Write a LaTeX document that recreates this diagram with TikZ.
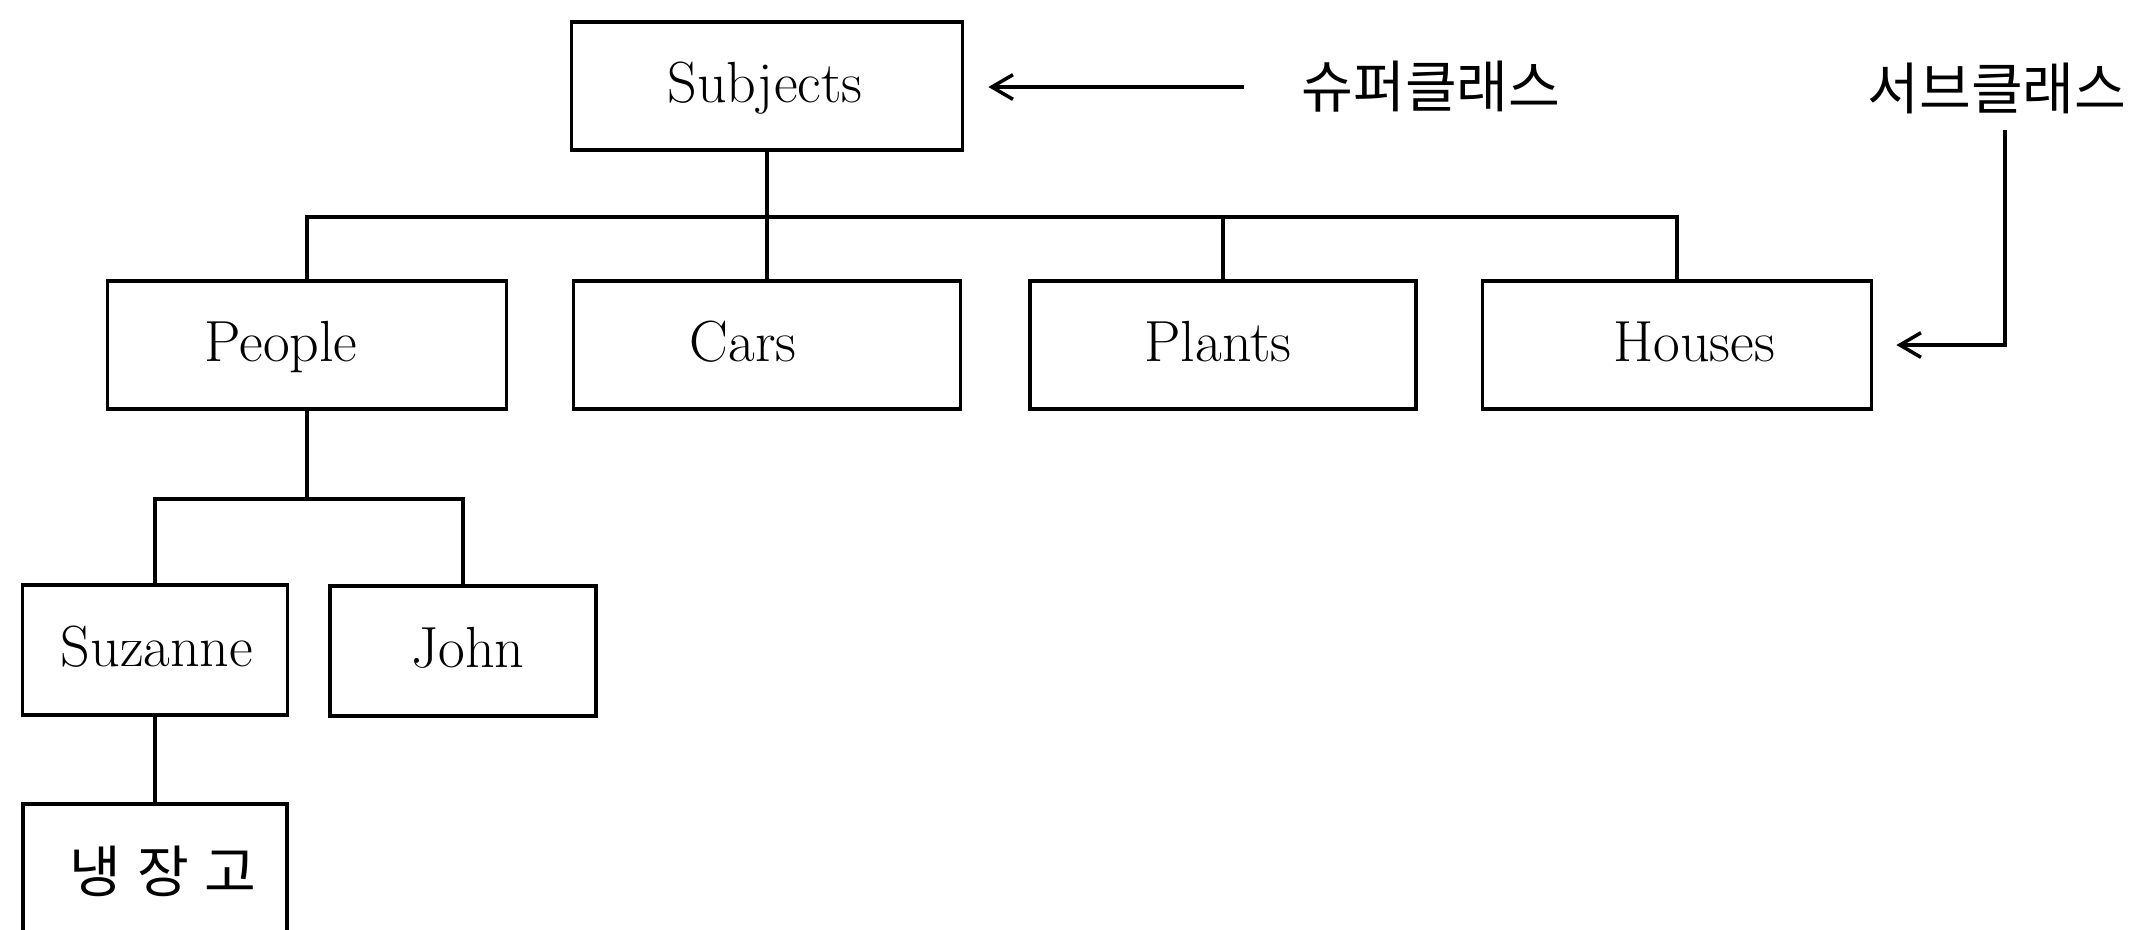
\documentclass[tikz,border=0pt]{standalone}
\usepackage{fontspec}
\newfontfamily\kr{Noto Sans CJK KR}
\usetikzlibrary{arrows.meta,calc}
\tikzset{
  box/.style={draw, line width=1pt, inner sep=0pt, minimum height=1.28cm},
  word/.style={anchor=base, inner sep=0pt, font=\fontsize{16.5}{20}\selectfont},
  hangul/.style={inner sep=0pt, font=\kr\fontsize{16}{19}\selectfont},
  link/.style={line width=1pt},
  pointer/.style={line width=1pt, -{Straight Barb[length=6pt,width=7pt,line width=1pt]}},
}
\begin{document}
\begin{tikzpicture}[x=0.01cm,y=-0.01cm]
\useasboundingbox (0,0) rectangle (2151,929);
\clip (0,0) rectangle (2151,929);

% class boxes
\node[box, minimum width=3.91cm] (subjects) at (767,86) {};
\node[box, minimum width=3.99cm] (people) at (307,345) {};
\node[box, minimum width=3.87cm] (cars) at (767,345) {};
\node[box, minimum width=3.86cm] (plants) at (1223,345) {};
\node[box, minimum width=3.89cm] (houses) at (1677,345) {};
\node[box, minimum width=2.65cm, minimum height=1.30cm] (suzanne) at (155,650) {};
\node[box, minimum width=2.66cm, minimum height=1.30cm] (john) at (463,651) {};
\node[box, minimum width=2.64cm, minimum height=1.96cm] (fridge) at (155,902) {};

% box captions
\node[word] (subjects-t) at (765,102) {Subjects};
\node[word] (people-t) at (281,361) {People};
\node[word] (cars-t) at (743,361) {Cars};
\node[word] (plants-t) at (1218,361) {Plants};
\node[word] (houses-t) at (1694,361) {Houses};
\node[word] (suzanne-t) at (157,666) {Suzanne};
\node[word] (john-t) at (468,667) {John};
\node[hangul] (fridge-t) at (163,871) {냉\hspace{0.16cm}장\hspace{0.16cm}고};

% side notes
\node[hangul] (super) at (1431,87) {슈퍼클래스};
\node[hangul] (sub) at (1997,88) {서브클래스};

% hierarchy lines
\coordinate (bus) at (0,217);
\coordinate (fork) at (0,499);
\draw[link] (subjects.south) -- (cars.north);
\draw[link] (people.north) -- (people.north |- bus) -- (houses.north |- bus) -- (houses.north);
\draw[link] (plants.north) -- (plants.north |- bus);
\draw[link] (people.south) -- (people.south |- fork);
\draw[link] (suzanne.north) -- (suzanne.north |- fork) -- (john.north |- fork) -- (john.north);
\draw[link] (suzanne.south) -- (fridge.north);

% pointers from the notes
\coordinate (s1) at (1244,87);
\draw[pointer, shorten >=0.24cm] (s1) -- (s1 -| subjects.east);
\coordinate (s2) at (2005,130);
\draw[pointer, shorten >=0.23cm] (s2) |- (houses.east);
\end{tikzpicture}
\end{document}
